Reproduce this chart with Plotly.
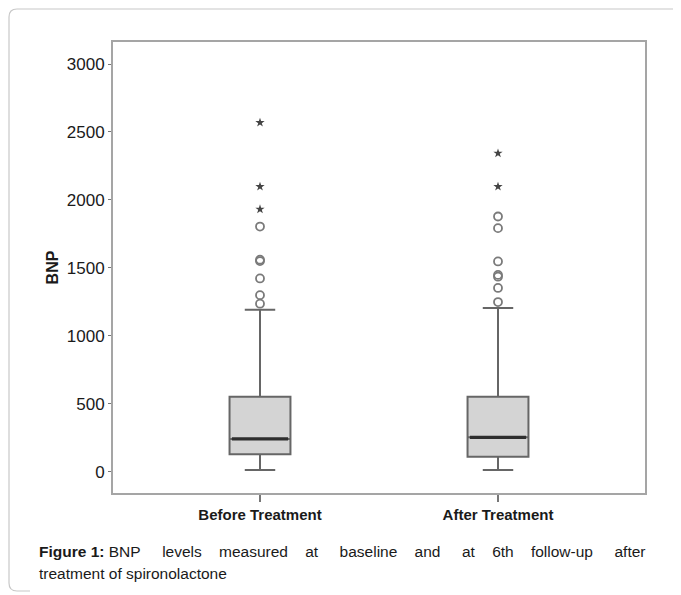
import plotly.graph_objects as go

# ---- data ----
groups = ["Before Treatment", "After Treatment"]
positions = [1, 2]
q1 = [128, 110]
median = [241, 253]
q3 = [552, 552]
lower_whisker = [12, 12]
upper_whisker = [1192, 1204]

before_outliers = [1236, 1299, 1422, 1550, 1560, 1804]
before_extremes = [1931, 2098, 2569]
after_outliers = [1248, 1352, 1435, 1448, 1547, 1792, 1878]
after_extremes = [2098, 2343]

y_ticks = [0, 500, 1000, 1500, 2000, 2500, 3000]

# ---- layout geometry (screen pixels; page body has an 8px margin) ----
OFF = 8
W, H = 681, 595
L, R, T, B = 113, 645, 42, 493  # plot frame on screen

def px(x):
    return (x - L) / (R - L)

def py(y):
    return (B - y) / (B - T)

box_w = 0.256

fig = go.Figure()

for i, g in enumerate(groups):
    fig.add_trace(go.Box(
        x=[positions[i]], q1=[q1[i]], median=[median[i]], q3=[q3[i]],
        lowerfence=[lower_whisker[i]], upperfence=[upper_whisker[i]],
        width=box_w, whiskerwidth=0.5, boxpoints=False,
        fillcolor="#d4d4d4", line=dict(color="#666666", width=2),
        showlegend=False, hoverinfo="skip",
    ))
    fig.add_trace(go.Scatter(
        x=[positions[i] - box_w / 2 + 0.01, positions[i] + box_w / 2 - 0.01],
        y=[median[i], median[i]], mode="lines",
        line=dict(color="#2e2e2e", width=3.2), showlegend=False, hoverinfo="skip",
    ))

outs = [before_outliers, after_outliers]
exts = [before_extremes, after_extremes]
for i in range(2):
    fig.add_trace(go.Scatter(
        x=[positions[i]] * len(outs[i]), y=outs[i], mode="markers",
        marker=dict(symbol="circle-open", size=8, color="#7a7a7a", line=dict(width=1.8)),
        showlegend=False, hoverinfo="skip",
    ))
    fig.add_trace(go.Scatter(
        x=[positions[i]] * len(exts[i]), y=exts[i], mode="markers",
        marker=dict(symbol="star", size=7, color="#444444"),
        showlegend=False, hoverinfo="skip",
    ))

span = 1 / (px(498) - px(260))
x0 = 1 - px(260) * span
fig.update_xaxes(
    range=[x0, x0 + span], tickvals=positions, ticktext=groups,
    showline=True, mirror=True, linecolor="#a5a5a5", linewidth=2,
    ticks="outside", ticklen=7, tickcolor="#777777", tickwidth=1.5,
    showgrid=False, zeroline=False,
    tickfont=dict(family="Liberation Sans, Arial", size=15, color="#1a1a1a", weight="bold"),
)
fig.update_yaxes(
    range=[-157, 3162], tickvals=y_ticks,
    showline=True, mirror=True, linecolor="#a5a5a5", linewidth=2,
    ticks="outside", ticklen=3, tickcolor="#777777",
    showgrid=False, zeroline=False,
    tickfont=dict(family="Liberation Sans, Arial", size=17, color="#1a1a1a"),
    title=dict(text="<b>BNP</b>", font=dict(family="Liberation Sans, Arial", size=16, color="#1a1a1a"), standoff=4),
)

shapes = [dict(
    type="path", xref="paper", yref="paper",
    path=(f"M {px(W+5)},{py(9)} L {px(17)},{py(9)} Q {px(9)},{py(9)} {px(9)},{py(17)} "
          f"L {px(9)},{py(583)} Q {px(9)},{py(591)} {px(17)},{py(591)} L {px(30)},{py(591)}"),
    line=dict(color="#c8c8c8", width=1.2),
)]

g4 = "&nbsp;&nbsp;&nbsp;&nbsp; "
g3 = "&nbsp;&nbsp;&nbsp; "
line1 = ("<b>Figure 1:</b> BNP" + g4 + "levels" + g3 + "measured" + g3 + "at" + g4 + "baseline"
         + g3 + "and" + g4 + "at" + g3 + "6th" + g3 + "follow-up" + g4 + "after")

annotations = [
    dict(xref="paper", yref="paper", x=px(37), y=py(551), xanchor="left", yanchor="middle",
         showarrow=False, align="left", text=line1,
         font=dict(family="Liberation Sans, Arial", size=15.5, color="#1a1a1a")),
    dict(xref="paper", yref="paper", x=px(37), y=py(573), xanchor="left", yanchor="middle",
         showarrow=False, align="left", text="treatment of spironolactone",
         font=dict(family="Liberation Sans, Arial", size=15.5, color="#1a1a1a")),
]

fig.update_layout(
    width=W, height=H, autosize=False,
    margin=dict(l=L - OFF, r=W - R + OFF, t=T - OFF, b=H - B + OFF, pad=0),
    paper_bgcolor="white", plot_bgcolor="white",
    shapes=shapes, annotations=annotations,
    font=dict(family="Liberation Sans, Arial"),
)

fig.write_html("out.html")
